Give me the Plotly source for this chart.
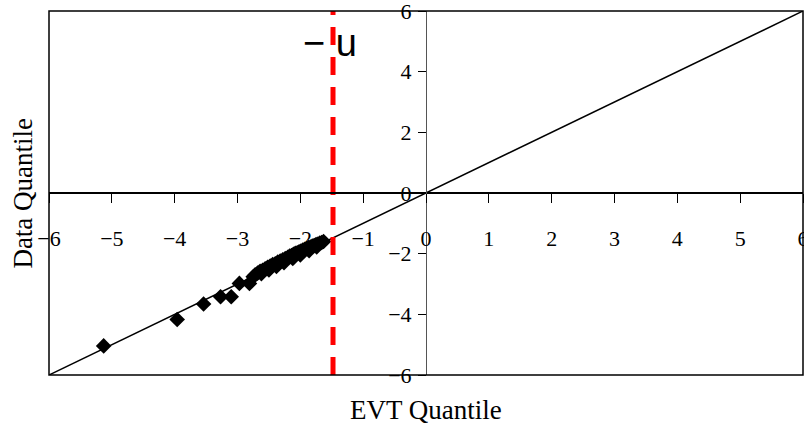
import plotly.graph_objects as go

# EVT quantile (x) vs data quantile (y) for the tail observations
evt_q = [-5.13, -3.96, -3.54, -3.27, -3.10, -2.97, -2.81, -2.75,
         -2.72, -2.68, -2.64, -2.60, -2.56, -2.52, -2.48, -2.44, -2.40,
         -2.36, -2.32, -2.28, -2.24, -2.20, -2.17, -2.14, -2.11, -2.08,
         -2.05, -2.02, -1.99, -1.96, -1.93, -1.90, -1.87, -1.84, -1.81,
         -1.78, -1.75, -1.72, -1.69, -1.66, -1.63,
         -2.62, -2.50, -2.38, -2.26, -2.12, -2.00, -1.86, -1.74]
data_q = [-5.04, -4.17, -3.66, -3.42, -3.42, -2.98, -2.98, -2.76,
          -2.70, -2.64, -2.58, -2.55, -2.50, -2.45, -2.41, -2.36, -2.33,
          -2.28, -2.24, -2.20, -2.16, -2.12, -2.08, -2.06, -2.02, -1.99,
          -1.97, -1.94, -1.91, -1.88, -1.86, -1.83, -1.80, -1.78, -1.75,
          -1.73, -1.70, -1.68, -1.65, -1.63, -1.60,
          -2.66, -2.54, -2.42, -2.30, -2.16, -2.04, -1.90, -1.78]

threshold = -1.48         # the "-u" threshold
ref_x = [-6, 6]           # 45-degree reference line
ref_y = [-6, 6]
x_ticks = [-6, -5, -4, -3, -2, -1, 0, 1, 2, 3, 4, 5, 6]
y_ticks = [-6, -4, -2, 0, 2, 4, 6]
axis_range = [-6, 6]

fig = go.Figure()
fig.add_trace(go.Scatter(x=ref_x, y=ref_y, mode="lines",
                         line=dict(color="black", width=1.5),
                         showlegend=False, hoverinfo="skip"))
fig.add_trace(go.Scatter(x=evt_q, y=data_q, mode="markers",
                         marker=dict(symbol="diamond", size=12, color="black"),
                         showlegend=False))
fig.add_trace(go.Scatter(x=[threshold, threshold], y=axis_range, mode="lines",
                         line=dict(color="#ff0000", width=5, dash="18px,12px"),
                         showlegend=False, hoverinfo="skip"))

fig.update_layout(
    width=804, height=431,
    margin=dict(l=49, r=1, t=11, b=56),
    paper_bgcolor="white", plot_bgcolor="white",
    font=dict(family="Liberation Serif", color="black"),
    xaxis=dict(range=axis_range, tickvals=x_ticks, anchor="free", position=0.5,
               automargin=False, ticklabeloverflow="allow",
               showline=True, linecolor="black", linewidth=1.5,
               ticks="outside", ticklen=9, tickwidth=1.2, tickcolor="black",
               ticklabelstandoff=17, showgrid=False, zeroline=False,
               tickfont=dict(size=22)),
    yaxis=dict(range=axis_range, tickvals=y_ticks, anchor="free", position=0.5,
               automargin=False, ticklabeloverflow="allow",
               showline=True, linecolor="#555555", linewidth=1,
               ticks="outside", ticklen=8, tickwidth=1.2, tickcolor="black",
               ticklabelstandoff=2, showgrid=False, zeroline=False,
               tickfont=dict(size=22)),
    shapes=[dict(type="rect", xref="paper", yref="paper", x0=0, x1=1, y0=0, y1=1,
                 line=dict(color="black", width=1.5))],
    annotations=[
        dict(text="EVT Quantile", xref="paper", yref="paper", x=0.5, y=-0.096,
             xanchor="center", yanchor="middle", showarrow=False,
             font=dict(size=27, family="Liberation Serif")),
        dict(text="Data Quantile", xref="paper", yref="paper", x=-0.035, y=0.5,
             xanchor="center", yanchor="middle", textangle=-90, showarrow=False,
             font=dict(size=27, family="Liberation Serif")),
        dict(text="− u", xref="x", yref="y", x=-1.53, y=4.95,
             xanchor="center", yanchor="middle", showarrow=False,
             font=dict(size=38, family="Liberation Sans", color="black")),
    ],
)

fig.write_html("out.html", config={"displayModeBar": False},
               post_script="document.body.style.margin='0';document.body.style.overflow='hidden';")
